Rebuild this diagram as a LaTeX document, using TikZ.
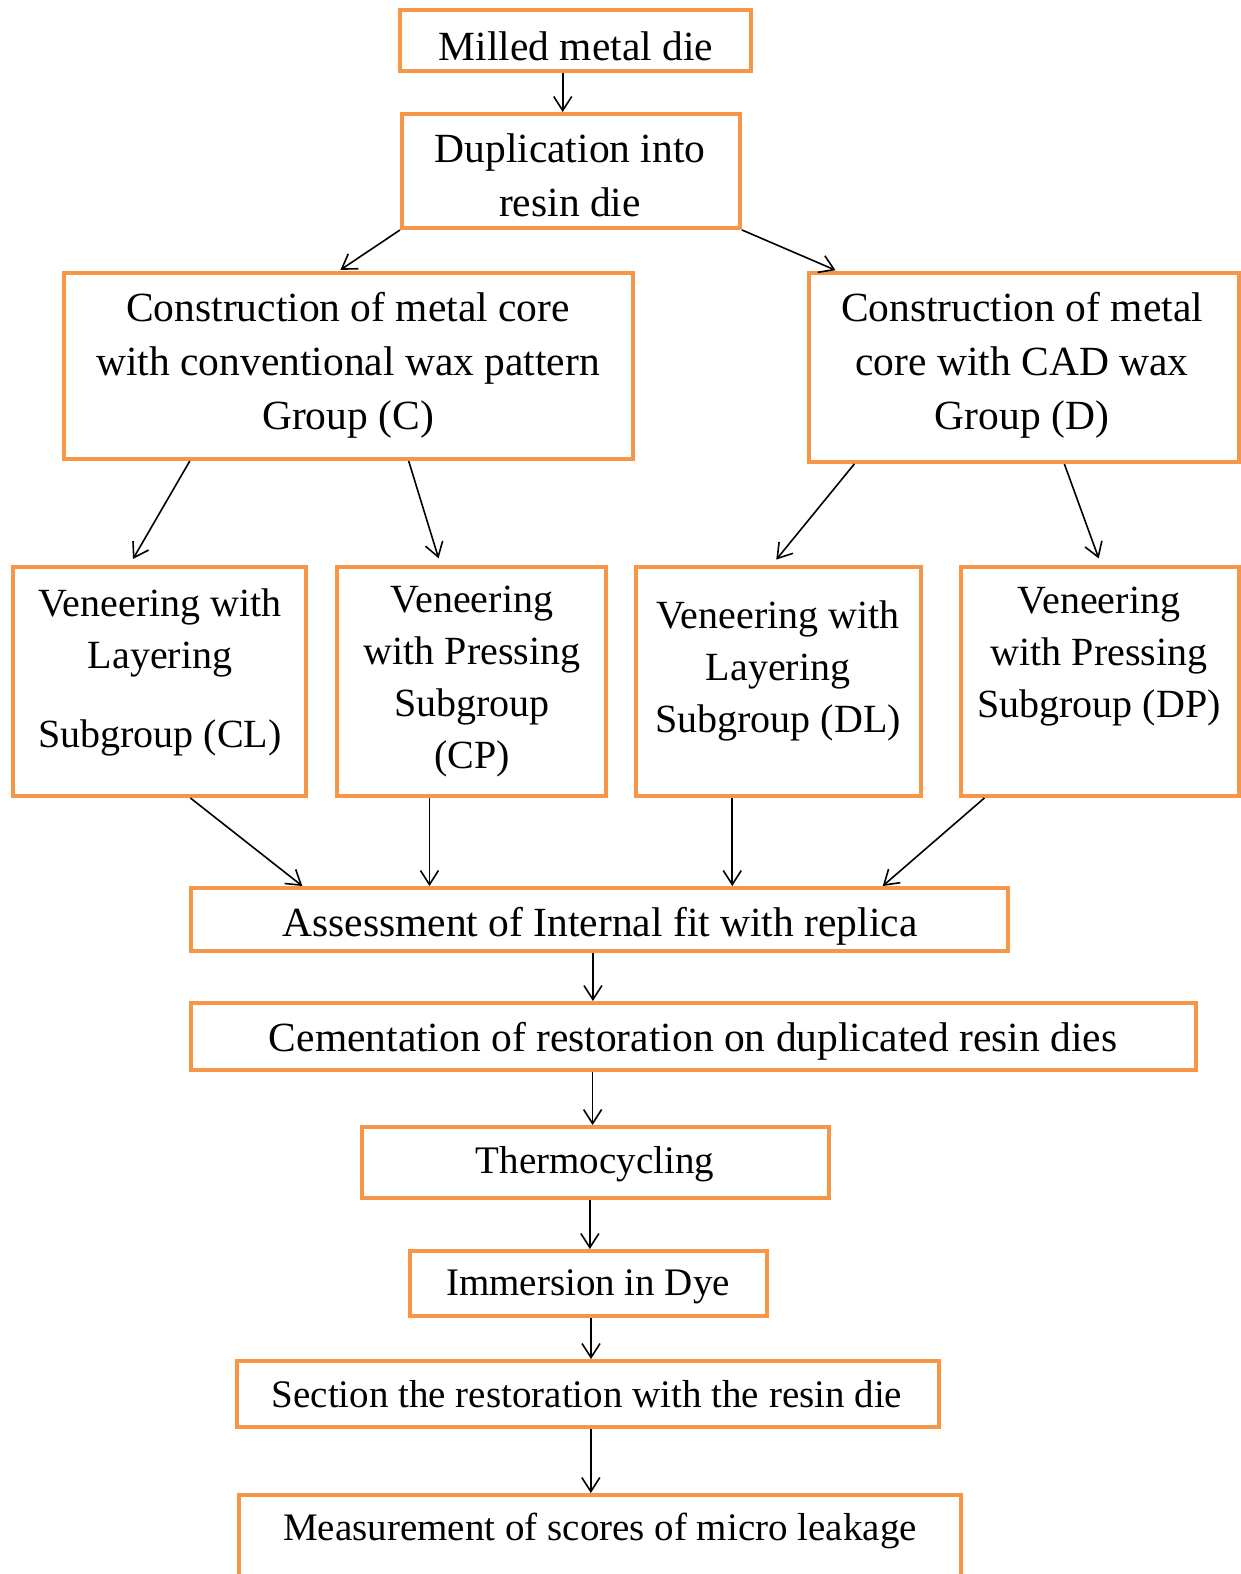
\documentclass[tikz,border=0pt]{standalone}
\usepackage{fontspec}
\setmainfont{Liberation Serif}
\usetikzlibrary{arrows.meta,calc}
\tikzset{>={Straight Barb[length=14pt,width=18pt]}}
\definecolor{boxorange}{RGB}{247,150,70}

\begin{document}
\begin{tikzpicture}[x=1pt,y=-1pt,
  box/.style={draw=boxorange,line width=4pt,inner sep=0pt},
  txt/.style={align=center,inner sep=0pt,font=\fontsize{41.5pt}{54pt}\selectfont},
  vtxt/.style={txt,font=\fontsize{40pt}{52pt}\selectfont},
  stxt/.style={txt,font=\fontsize{39pt}{52pt}\selectfont},
  arr/.style={->,line width=1.6pt}]
  \useasboundingbox (0,0) rectangle (1241,1574);
  \clip (0,0) rectangle (1241,1574);

  % boxes
  \node[box,minimum width=351pt,minimum height=61pt] (milled) at (575.5,40.5) {};
  \node[box,minimum width=338pt,minimum height=114pt] (dup) at (571,171) {};
  \node[box,minimum width=569pt,minimum height=186pt] (cwax) at (348.5,366) {};
  \node[box,minimum width=430pt,minimum height=189pt] (dwax) at (1024,367.5) {};
  \node[box,minimum width=293pt,minimum height=229pt] (cl) at (159.5,681.5) {};
  \node[box,minimum width=269pt,minimum height=229pt] (cp) at (471.5,681.5) {};
  \node[box,minimum width=285pt,minimum height=229pt] (dl) at (778.5,681.5) {};
  \node[box,minimum width=278pt,minimum height=229pt] (dp) at (1100,681.5) {};
  \node[box,minimum width=817pt,minimum height=63pt] (assess) at (599.5,919.5) {};
  \node[box,minimum width=1005pt,minimum height=67pt] (cement) at (693.5,1036.5) {};
  \node[box,minimum width=467pt,minimum height=71pt] (thermo) at (595.5,1162.5) {};
  \node[box,minimum width=357pt,minimum height=65pt] (immerse) at (588.5,1283.5) {};
  \node[box,minimum width=702pt,minimum height=66pt] (section) at (588,1394) {};
  \node[box,minimum width=722pt,minimum height=143pt] (measure) at (600,1566.5) {};

  % texts
  \node[txt] (milled-t) at (576,46) {Milled metal die};
  \node[txt] (dup-t) at (570,175) {Duplication into\\resin die};
  \node[txt] (cwax-t) at (348,365) {Construction of metal core\\with conventional wax pattern\\Group (C)};
  \node[txt] (dwax-t) at (1022,365) {Construction of metal\\core with CAD wax\\Group (D)};
  \node[vtxt] (cl-t) at (160,672) {Veneering with\\Layering\\[27pt]Subgroup (CL)};
  \node[vtxt] (cp-t) at (472,682) {Veneering\\with Pressing\\Subgroup\\(CP)};
  \node[vtxt] (dl-t) at (778,671) {Veneering with\\Layering\\Subgroup (DL)};
  \node[vtxt] (dp-t) at (1099,657) {Veneering\\with Pressing\\Subgroup (DP)};
  \node[txt] (assess-t) at (600,926) {Assessment of Internal fit with replica};
  \node[txt] (cement-t) at (693,1041) {Cementation of restoration on duplicated resin dies};
  \node[stxt] (thermo-t) at (595,1164) {Thermocycling};
  \node[stxt] (immerse-t) at (588,1287) {Immersion in Dye};
  \node[stxt] (section-t) at (587,1394) {Section the restoration with the resin die};
  \node[stxt] (measure-t) at (600,1531) {Measurement of scores of micro leakage};

  % slanted arrows
  \draw[arr,shorten >=2pt] (dup.south west) -- ($(cwax.north west)!0.483!(cwax.north east)$);
  \draw[arr,shorten >=2pt] (dup.south east) -- ($(dwax.north west)!0.070!(dwax.north east)$);
  \draw[arr,shorten >=7pt] ($(cwax.south west)!0.223!(cwax.south east)$) -- ($(cl.north west)!0.399!(cl.north east)$);
  \draw[arr,shorten >=7pt] ($(cwax.south west)!0.605!(cwax.south east)$) -- ($(cp.north west)!0.387!(cp.north east)$);
  \draw[arr,shorten >=7pt] ($(dwax.south west)!0.109!(dwax.south east)$) -- ($(dl.north west)!0.477!(dl.north east)$);
  \draw[arr,shorten >=7pt] ($(dwax.south west)!0.593!(dwax.south east)$) -- ($(dp.north west)!0.504!(dp.north east)$);
  \draw[arr] ($(cl.south west)!0.604!(cl.south east)$) -- ($(assess.north west)!0.138!(assess.north east)$);
  \draw[arr] ($(dp.south west)!0.090!(dp.south east)$) -- ($(assess.north west)!0.845!(assess.north east)$);

  % straight arrows
  \draw[arr] ($(milled.south west)!0.464!(milled.south east)$) coordinate (p) -- (p |- dup.north);
  \draw[arr] ($(cp.south west)!0.346!(cp.south east)$) coordinate (p) -- (p |- assess.north);
  \draw[arr] ($(dl.south west)!0.340!(dl.south east)$) coordinate (p) -- (p |- assess.north);
  \draw[arr] ($(assess.south west)!0.492!(assess.south east)$) coordinate (p) -- (p |- cement.north);
  \draw[arr] ($(cement.south west)!0.400!(cement.south east)$) coordinate (p) -- (p |- thermo.north);
  \draw[arr] ($(thermo.south west)!0.488!(thermo.south east)$) coordinate (p) -- (p |- immerse.north);
  \draw[arr] ($(immerse.south west)!0.507!(immerse.south east)$) coordinate (p) -- (p |- section.north);
  \draw[arr] ($(section.south west)!0.504!(section.south east)$) coordinate (p) -- (p |- measure.north);
\end{tikzpicture}
\end{document}
